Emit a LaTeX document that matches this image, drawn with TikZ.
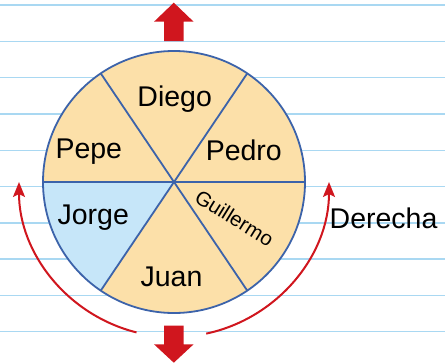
\documentclass[tikz,border=0pt]{standalone}
\usepackage{fontspec}
\setmainfont{Liberation Sans}
\usetikzlibrary{arrows.meta}
\definecolor{paperline}{HTML}{A9D8F2}
\definecolor{wedge}{HTML}{FCE0A9}
\definecolor{wedgeblue}{HTML}{C6E6F9}
\definecolor{rim}{HTML}{3C63AA}
\definecolor{arrowred}{HTML}{D0161E}
\tikzset{
  ruled/.style={draw=paperline, line width=1.4pt},
  spoke/.style={draw=rim, line width=1.8pt},
  pname/.style={font=\fontsize{28.5}{30}\selectfont, anchor=base, inner sep=0pt},
  bigarrow/.style={fill=arrowred, draw=none},
  turn/.style={draw=arrowred, line width=2pt, -{Stealth[length=15pt,width=12pt,inset=3pt]}}
}
\begin{document}
\begin{tikzpicture}[x=1pt,y=-1pt]
\useasboundingbox (0,0) rectangle (445,364);
\fill[white] (0,0) rectangle (445,364);
% lined paper
\foreach \k in {0,...,9} {
  \draw[ruled] (0,{5+36.3*\k}) -- (445,{5+36.3*\k});
}
% wheel
\coordinate (c) at (174,182);
\fill[wedge] (c) circle[radius=131];
\fill[wedgeblue] (c) -- +(180:131) arc[start angle=180, end angle=124, radius=131] -- cycle;
\draw[spoke] (c) +(180:131) -- +(0:131);
\draw[spoke] (c) +(236:131) -- +(56:131);
\draw[spoke] (c) +(124:131) -- +(304:131);
\draw[spoke] (c) circle[radius=131];
% names
\node[pname] (diego) at (174.7,106) {Diego};
\node[pname] (pepe) at (88.8,158.3) {Pepe};
\node[pname] (pedro) at (243.8,160.7) {Pedro};
\node[pname] (jorge) at (93.3,224) {Jorge};
\node[pname] (juan) at (171.5,286.7) {Juan};
\node[font=\fontsize{20.5}{22}\selectfont, inner sep=0pt, rotate=-31.7] (guillermo) at (234.5,218) {Guillermo};
\node[pname, anchor=base west] (derecha) at (329.5,228.3) {Derecha};
% big red arrows
\fill[bigarrow] (164,41) -- (164,21.7) -- (154,21.7) -- (173.8,2.7) -- (193.6,21.7) -- (183.6,21.7) -- (183.6,41) -- cycle;
\fill[bigarrow] (164,325.7) -- (164,344.3) -- (154,344.3) -- (173.8,362.7) -- (193.6,344.3) -- (183.6,344.3) -- (183.6,325.7) -- cycle;
% turning arrows
\draw[turn] (c) ++(104:155) arc[start angle=104, end angle=180, radius=155];
\draw[turn] (c) ++(78:155) arc[start angle=78, end angle=0, radius=155];
\end{tikzpicture}
\end{document}
